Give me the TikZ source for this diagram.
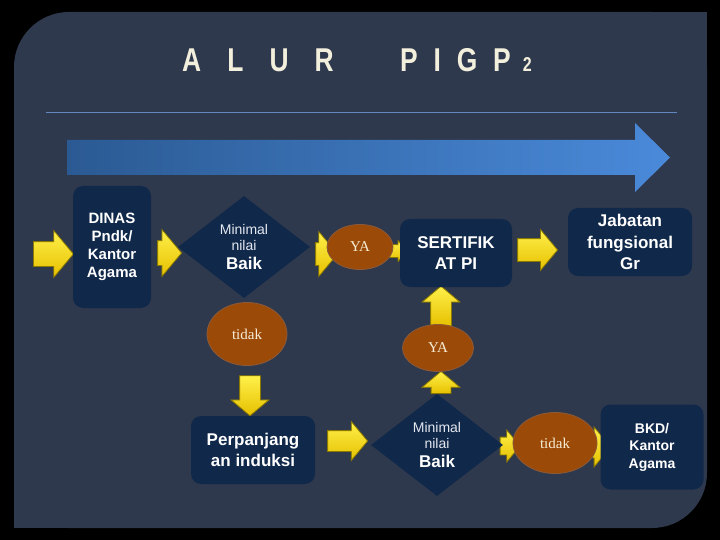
\documentclass[tikz,border=0pt]{standalone}
\usepackage{fontspec}
\setsansfont{Liberation Sans}
\newfontfamily\answerfont{Liberation Serif}
\newfontfamily\titlewide[LetterSpace=79, FakeStretch=0.8]{Liberation Sans Bold}
\newfontfamily\titlenarrow[LetterSpace=48, FakeStretch=0.8]{Liberation Sans Bold}
\usepackage{tikz}
\usetikzlibrary{positioning, calc, backgrounds, shapes.geometric, shapes.arrows}
\definecolor{panelslate}{HTML}{2F394D}
\definecolor{boxblue}{HTML}{10284A}
\definecolor{answerbrown}{HTML}{9C4A08}
\definecolor{answerrim}{HTML}{8A5A3A}
\definecolor{creamtext}{HTML}{F7EED6}
\definecolor{titlecream}{HTML}{F3EFDD}
\definecolor{ruleblue}{HTML}{6388C0}
\definecolor{flowdark}{HTML}{2B5A93}
\definecolor{flowlight}{HTML}{4A8ADA}
\definecolor{arrowlight}{HTML}{FFF04A}
\definecolor{arrowdark}{HTML}{E6C000}
\definecolor{arrowrim}{HTML}{8C7A00}
\definecolor{thintext}{HTML}{E4E8F0}

\begin{document}
\begin{tikzpicture}[x=1pt, y=-1pt,
    darkbox/.style={fill=boxblue, rounded corners=10pt, text=white, align=center,
      inner sep=0pt, font=\sffamily\bfseries\fontsize{15}{18}\selectfont},
    bigtext/.style={font=\sffamily\bfseries\fontsize{17}{21.5}\selectfont},
    decision/.style={diamond, fill=boxblue, inner sep=0pt, minimum width=132pt,
      minimum height=102pt, text=thintext, align=center,
      font=\sffamily\fontsize{14}{16}\selectfont},
    answer/.style={ellipse, fill=answerbrown, draw=answerrim, line width=0.8pt,
      text=creamtext, inner sep=0pt, font=\answerfont\fontsize{15}{15}\selectfont},
    yarrow/.style={single arrow, anchor=tail, top color=arrowlight, bottom color=arrowdark,
      draw=arrowrim, line width=0.8pt, inner xsep=0pt, inner ysep=12pt,
      single arrow tip angle=100, single arrow head extend=11pt},
    titletext/.style={text=titlecream, inner sep=0pt, anchor=base west}]

  % slide frame
  \begin{scope}[on background layer]
    \fill[black] (0,0) rectangle (720,540);
    \fill[panelslate, rounded corners=55pt] (14,12) rectangle (707,528);
    \fill[panelslate] (600,12) rectangle (707,100);
    \fill[panelslate] (14,420) rectangle (120,528);
    \draw[ruleblue, line width=0.8pt] (46,112) -- (677,112);
    \shade[left color=flowdark, right color=flowlight] (67,140) -- (635,140)
      -- (635,123) -- (670,157.5) -- (635,192) -- (635,175) -- (67,175) -- cycle;
  \end{scope}

  \node[titletext, font=\titlewide\fontsize{33}{33}\selectfont] (alur) at (182,72) {ALUR};
  \node[titletext, font=\titlenarrow\fontsize{33}{33}\selectfont] (pigp) at (400,72)
    {PIGP\hspace{12pt}{\fontsize{20}{20}\selectfont 2}};

  % row 1
  \node[darkbox, minimum width=78pt, minimum height=122pt] (dinas) at (112,247) {DINAS\\Pndk/\\Kantor\\Agama};
  \node[decision] (nilai1) at (244,247) {Minimal\\nilai\\[3pt]{\color{white}\bfseries\fontsize{17}{20}\selectfont Baik}};
  \node[answer, minimum width=66pt, minimum height=45pt] (ya1) at (360,247) {YA};
  \node[darkbox, bigtext, minimum width=112pt, minimum height=68pt] (sertifikat) at (456,253) {SERTIFIK\\AT PI};
  \node[darkbox, bigtext, minimum width=124pt, minimum height=68pt] (jabatan) at (630,242) {Jabatan\\fungsional\\Gr};

  % middle
  \node[answer, minimum width=80pt, minimum height=63pt] (tidak1) at (247,334) {tidak};
  \node[answer, minimum width=71pt, minimum height=47pt] (ya2) at (438,348) {YA};

  % row 2
  \node[darkbox, bigtext, minimum width=124pt, minimum height=68pt] (perpanjang) at (253,450) {Perpanjang\\an induksi};
  \node[decision] (nilai2) at (437,445) {Minimal\\nilai\\[3pt]{\color{white}\bfseries\fontsize{17}{20}\selectfont Baik}};
  \node[answer, minimum width=84pt, minimum height=61pt] (tidak2) at (555,443) {tidak};
  \node[darkbox, minimum width=103pt, minimum height=85pt,
    font=\sffamily\bfseries\fontsize{14}{17.5}\selectfont] (bkd) at (652,447) {BKD/\\Kantor\\Agama};

  % yellow block arrows, placed by their tails
  \begin{scope}[on background layer]
    \coordinate (entry) at (33,254);
    \node[yarrow, minimum height=40pt] (go0) at (entry) {};
    \node[yarrow, minimum height=24pt] (go1) at ($(dinas.east)+(6,6)$) {};
    \node[yarrow, minimum height=22pt, inner ysep=11pt] (go2) at ($(nilai1.east)+(5,7)$) {};
    \node[yarrow, minimum height=18pt, inner ysep=6pt, single arrow head extend=4pt] (go3) at ($(ya1.east)+(-5,4)$) {};
    \node[yarrow, minimum height=40pt, inner ysep=11pt, single arrow head extend=9pt] (go4) at ($(sertifikat.east)+(5,-3)$) {};
    \node[yarrow, rotate=90, minimum height=40pt, inner ysep=10pt, single arrow head extend=8.5pt] (up1) at ($(ya2.north)+(3,2.5)$) {};
    \node[yarrow, rotate=-90, minimum height=40pt, inner ysep=10pt, single arrow head extend=8.5pt] (down1) at ($(tidak1.south)+(3,9.5)$) {};
    \node[yarrow, minimum height=40pt, inner ysep=10pt, single arrow head extend=9pt] (go5) at ($(perpanjang.east)+(12,-9)$) {};
    \node[yarrow, rotate=90, minimum height=22pt, inner ysep=9.5pt, single arrow head extend=9pt] (up2) at ($(nilai2.north)+(4,0)$) {};
    \node[yarrow, minimum height=20pt, inner ysep=8.5pt, single arrow head extend=7pt] (go6) at ($(nilai2.east)+(-3.5,1)$) {};
    \node[yarrow, minimum height=18pt, inner ysep=10.5pt, single arrow head extend=9pt] (go7) at ($(tidak2.east)+(-5,4)$) {};
  \end{scope}
\end{tikzpicture}
\end{document}
